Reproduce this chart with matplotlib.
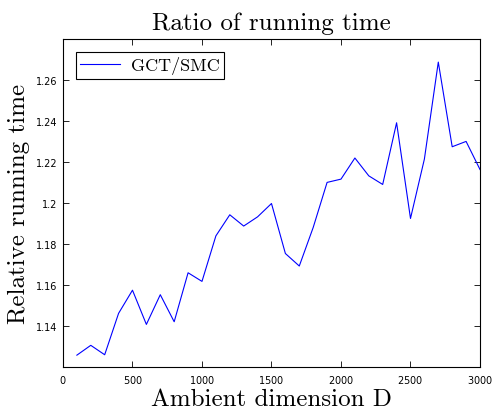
import matplotlib
matplotlib.use("Agg")
import matplotlib.pyplot as plt
from matplotlib.ticker import FixedLocator, FixedFormatter

# ambient dimension and running time ratio (GCT / SMC)
dims = [100, 200, 300, 400, 500, 600, 700, 800, 900, 1000,
        1100, 1200, 1300, 1400, 1500, 1600, 1700, 1800, 1900, 2000,
        2100, 2200, 2300, 2400, 2500, 2600, 2700, 2800, 2900, 3000]
ratio = [1.1258, 1.1306, 1.1260, 1.1462, 1.1575, 1.1408, 1.1553, 1.1421, 1.1660, 1.1618,
         1.1840, 1.1943, 1.1888, 1.1933, 1.1998, 1.1754, 1.1693, 1.1881, 1.2101, 1.2117,
         1.2220, 1.2133, 1.2091, 1.2392, 1.1925, 1.2215, 1.2688, 1.2275, 1.2301, 1.2164]
xticks = [0, 500, 1000, 1500, 2000, 2500, 3000]
yticks = [1.14, 1.16, 1.18, 1.2, 1.22, 1.24, 1.26]
ytick_labels = ["1.14", "1.16", "1.18", "1.2", "1.22", "1.24", "1.26"]

plt.rcParams["axes.formatter.use_mathtext"] = True

fig = plt.figure(figsize=(4.92, 4.14), dpi=100)
ax = fig.add_axes([0.128, 0.111, 0.8476, 0.792])

ax.plot(dims, ratio, color="#0000ff", lw=0.8, label="GCT/SMC")

ax.set_xlim(0, 3000)
ax.set_ylim(1.12, 1.28)
ax.xaxis.set_major_locator(FixedLocator(xticks))
ax.yaxis.set_major_locator(FixedLocator(yticks))
ax.yaxis.set_major_formatter(FixedFormatter(ytick_labels))
ax.tick_params(direction="in", top=True, right=True, length=4, width=0.6,
               labelsize=7, pad=4)
for s in ax.spines.values():
    s.set_linewidth(0.8)

ax.set_title("Ratio of running time", fontsize=18, fontname="cmr10", pad=7)
ax.set_xlabel("Ambient dimension D", fontsize=18, fontname="cmr10", labelpad=2)
ax.set_ylabel("Relative running time", fontsize=18, fontname="cmr10", labelpad=4)

leg = ax.legend(loc="upper left", fancybox=False, edgecolor="black",
                framealpha=1, prop={"family": "cmr10", "size": 13},
                handlelength=2.2, handletextpad=0.6,
                borderpad=0.25, borderaxespad=0.7)
leg.get_frame().set_linewidth(0.8)

fig.savefig("out.png", dpi=100)
